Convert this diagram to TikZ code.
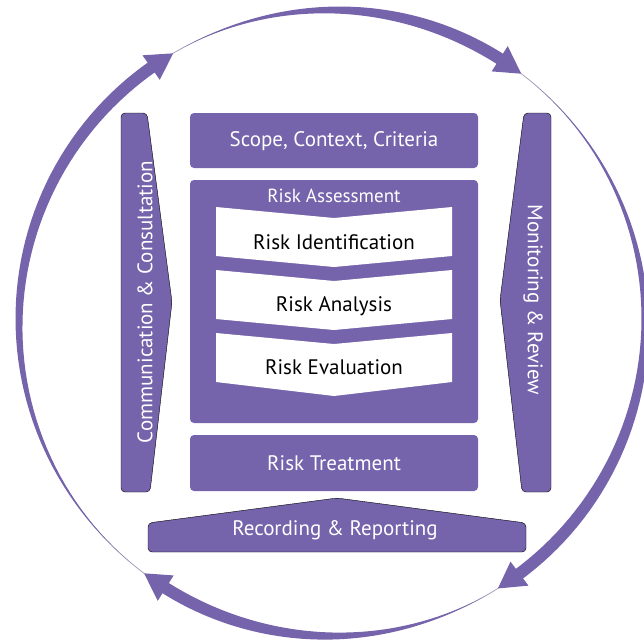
\documentclass[tikz,border=0pt]{standalone}
\usepackage{fontspec}
\setmainfont{PT Sans}
\usepackage{tikz}
\usetikzlibrary{calc}
\definecolor{riskpurple}{RGB}{117,99,171}
\def\cx{332}
\def\cy{323}
\def\rr{313}
\def\labelsize{\fontsize{21}{24}\selectfont}
\tikzset{declare function={taper(\s)=sin(90*\s)*sqrt(abs(sin(90*\s)));}}
% tapered arrow along the ring, clockwise from angle #1 to tip angle #2
\def\circarrow(#1:#2){%
	\fill[riskpurple] plot[domain=#1:#2+4,samples=60] ({\cx+(\rr+6*taper((#1-\x)/(#1-#2-4)))*cos(\x)},{\cy-(\rr+6*taper((#1-\x)/(#1-#2-4)))*sin(\x)})
		-- plot[domain=#2+4:#1,samples=60] ({\cx+(\rr-6*taper((#1-\x)/(#1-#2-4)))*cos(\x)},{\cy-(\rr-6*taper((#1-\x)/(#1-#2-4)))*sin(\x)}) -- cycle;
	\fill[riskpurple] ({\cx+(\rr+15)*cos(#2+4.8)},{\cy-(\rr+15)*sin(#2+4.8)}) -- ({\cx+\rr*cos(#2)},{\cy-\rr*sin(#2)}) -- ({\cx+(\rr-15)*cos(#2+4.8)},{\cy-(\rr-15)*sin(#2+4.8)}) -- cycle;}

\begin{document}
\begin{tikzpicture}[x=1pt,y=-1pt,
	purplebox/.style={fill=riskpurple, rounded corners=4pt},
	whitetext/.style={text=white, font=\labelsize},
	blacktext/.style={text=black, font=\labelsize}]
			%%%%% START %%%%%
			\useasboundingbox (0,0) rectangle (644,641);
			
			\draw[line width=0.8pt, color=riskpurple!30!gray!50] (\cx,\cy) circle (\rr);
			\circarrow(233.1:120.5)
			\circarrow(120.5:52.8)
			\circarrow(412.8:302)
			\circarrow(302:233.1)
			
			\draw[purplebox] (121,113) -- (147,113) -- (172,302) -- (150,492) -- (121,492) -- cycle;
			\draw[purplebox] (524,113) -- (551,113) -- (551,492) -- (522,492) -- (500,300) -- cycle;
			
			\fill[purplebox] (190,113) rectangle (478,168);
			\fill[purplebox] (190,180) rectangle (478,423);
			\fill[purplebox] (190,435) rectangle (478,491);
			\draw[purplebox] (148,552) -- (148,523) -- (337,498) -- (526,523) -- (526,552) -- cycle;
			
			\fill[white] (216,207) -- (334,218) -- (452,207) -- (452,256) -- (334,267) -- (216,256) -- cycle;
			\fill[white] (216,270) -- (334,281) -- (452,270) -- (452,319) -- (334,330) -- (216,319) -- cycle;
			\fill[white] (216,333) -- (334,344) -- (452,333) -- (452,382) -- (334,396) -- (216,382) -- cycle;
			
			\node[whitetext] (scope) at (334,141) {Scope, Context, Criteria};
			\node[whitetext, font=\fontsize{19}{22}\selectfont] (assess) at (334,196) {Risk Assessment};
			\node[blacktext] (ident) at (334,242) {Risk Identification};
			\node[blacktext] (analysis) at (334,306) {Risk Analysis};
			\node[blacktext] (evaluation) at (334,367) {Risk Evaluation};
			\node[whitetext] (treatment) at (334,463) {Risk Treatment};
			\node[whitetext] (recording) at (335,530) {Recording \& Reporting};
			\node[whitetext, rotate=90] (comm) at (145,302) {Communication \& Consultation};
			\node[whitetext, rotate=-90] (monitor) at (533,300) {Monitoring \& Review};
			
			%%%%% END %%%%%
\end{tikzpicture}
\end{document}
